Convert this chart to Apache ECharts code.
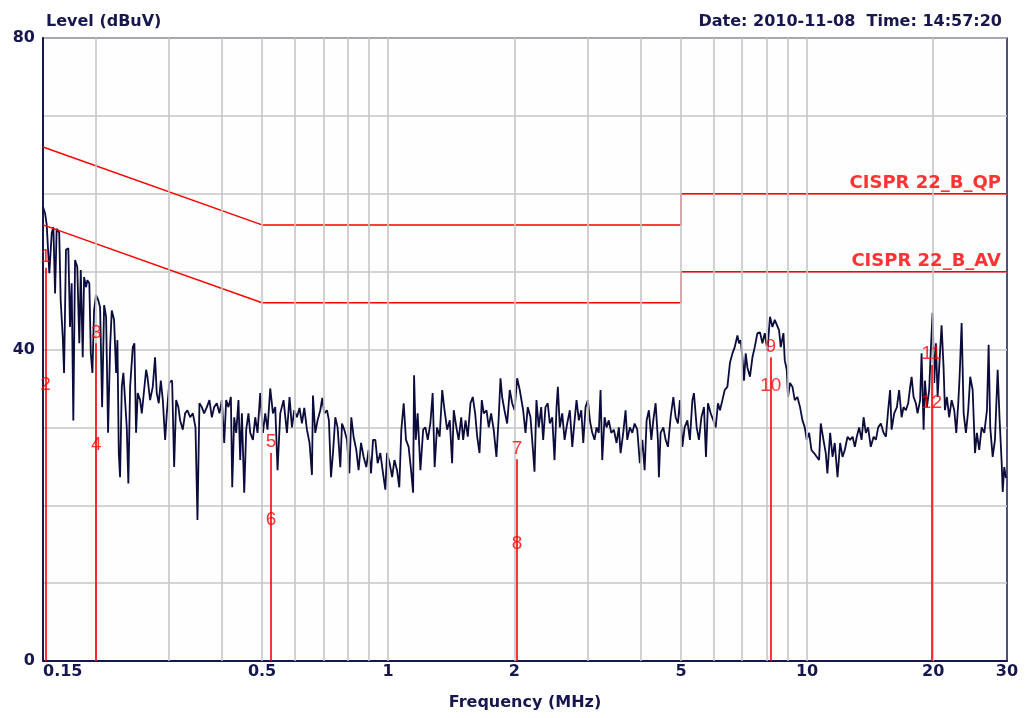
<!DOCTYPE html>
<html><head><meta charset="utf-8">
<script src="https://cdn.jsdelivr.net/npm/echarts@6/dist/echarts.min.js"></script>
<style>html,body{margin:0;padding:0;background:#fff}#c{width:1029px;height:718px}</style>
</head><body><div id="c"></div>
<script>
// Measured trace (frequency MHz, level dBuV)
const traceA = [[0.150,58.3],[0.1517,57.5],[0.1531,56],[0.1553,49.8],[0.1574,55],[0.1588,55.7],[0.1603,47.2],[0.1617,55.5],[0.1640,55],[0.1653,46.3],[0.1672,41.6],[0.1684,37],[0.1702,52.8],[0.1724,53],[0.1740,42.9],[0.1756,48.5],[0.1772,30.9],[0.1789,51.5],[0.1811,50.6],[0.1831,40.8],[0.1846,50.2],[0.1866,39],[0.1880,49.3],[0.1901,48],[0.1914,48.9],[0.1935,48.5],[0.1951,39.5],[0.1968,37],[0.1986,45],[0.2008,47],[0.2033,46.3],[0.2053,45.4],[0.2076,32.6],[0.2099,45.7],[0.2122,44.2],[0.2145,29.3],[0.2169,40.3],[0.2189,45],[0.2217,43.8],[0.2242,37],[0.2258,41.2],[0.2275,26.7],[0.2291,23.6],[0.2313,35.2],[0.2333,37],[0.2355,33.5],[0.2377,30],[0.2398,22.8],[0.2421,35.2],[0.2457,40.3],[0.2479,40.8],[0.2502,29.3],[0.2525,34.4],[0.2558,33.5],[0.2582,31.8],[0.2605,33.9],[0.2644,37.4],[0.2663,36.5],[0.2702,33.5],[0.2742,35.2],[0.2777,39],[0.2803,34.4],[0.2834,33.1],[0.2866,36],[0.2898,33.5],[0.2935,28.4],[0.2962,31.8],[0.3004,35.8],[0.3050,36],[0.3084,24.9],[0.3118,33.5],[0.3157,32.6],[0.3187,30.9],[0.3234,29.7],[0.3276,31.8],[0.3317,32.2],[0.3368,31.3],[0.3418,31.8],[0.3468,30],[0.3506,18.1],[0.3544,33.1],[0.3591,32.6],[0.3637,31.8],[0.3691,32.6],[0.3744,33.5],[0.3794,31.3],[0.3843,32.6],[0.3900,33.1],[0.3956,31.8],[0.4009,33.5],[0.4061,28],[0.4105,33.5],[0.4157,32.6],[0.4213,33.9],[0.4244,22.3],[0.4291,31.3],[0.4338,29.3],[0.4392,33.5],[0.4434,25.8],[0.4476,31.8],[0.4533,21.6],[0.4583,29.7],[0.4640,31.8],[0.4685,29.3],[0.4755,28.4],[0.4816,31.3],[0.4877,29.3],[0.4950,34.4],[0.5024,29.3],[0.5088,31.8],[0.5152,29.7],[0.5230,35],[0.5308,31.8],[0.5376,32.6],[0.5444,24.5],[0.5526,31.8],[0.5627,33.5],[0.5733,29.3],[0.5815,33.9]];
const traceB = [[0.5893,30],[0.5968,32.2],[0.6056,31.3],[0.6143,32.5],[0.6226,30.5],[0.6306,32.5],[0.6399,29.7],[0.6491,28],[0.6578,23.9],[0.6614,34.1],[0.6699,29.3],[0.6784,30.9],[0.6886,32.2],[0.6962,33.8],[0.7040,31.8],[0.7144,32.2],[0.7221,30.9],[0.7303,23.6],[0.7383,26.7],[0.7478,31.3],[0.7573,30],[0.7687,24.9],[0.7759,30.5],[0.7858,29.7],[0.7974,28.4],[0.8077,24.1],[0.8166,31.3],[0.8270,28.8],[0.8393,27.1],[0.8499,24.5],[0.8614,28],[0.8738,26.2],[0.8868,24.9],[0.8980,27.1],[0.9101,24.1],[0.9201,28.4],[0.9319,28.4],[0.9437,25.4],[0.9579,26.7],[0.9722,24.1],[0.9846,22],[0.9937,26.7],[1.008,25.4],[1.022,23.6],[1.035,25.8],[1.050,24.5],[1.063,22.3],[1.075,29.7],[1.089,33.1],[1.103,28.4],[1.119,27.5],[1.134,24.5],[1.147,21.6],[1.153,36.7],[1.164,28.4],[1.176,31.8],[1.194,24.5],[1.212,29.7],[1.227,30],[1.243,28.4],[1.261,30.5],[1.277,34.4],[1.291,24.9],[1.308,30],[1.327,28.8],[1.346,34.8],[1.363,32.2],[1.383,29.7],[1.403,30.9],[1.421,25.4],[1.434,32.2],[1.455,30],[1.473,28.4],[1.494,31.3],[1.510,28.4],[1.530,30.9],[1.549,28.8],[1.572,33.1],[1.592,33.9],[1.613,31.8],[1.631,28.8],[1.652,26.7],[1.673,33.5],[1.691,31.8],[1.717,32.2],[1.738,30],[1.761,31.8],[1.786,29.7],[1.813,26.2],[1.836,31.3],[1.854,36.3],[1.871,33.9],[1.895,32.2],[1.923,30.5],[1.951,34.8],[1.977,33.1],[2.003,32.2],[2.032,36.3],[2.061,34.8]];
const traceC = [[2.069,34.8],[2.100,32.2],[2.127,29.3],[2.154,32.6],[2.186,31.3],[2.219,26.7],[2.235,24.3],[2.259,33.5],[2.288,30],[2.319,32.6],[2.344,28.4],[2.374,32.6],[2.404,33.1],[2.431,30.5],[2.464,31.3],[2.495,25.8],[2.523,32.6],[2.541,35.2],[2.569,30],[2.603,31.8],[2.637,28.4],[2.675,30.5],[2.714,32.2],[2.751,27.5],[2.786,30.9],[2.816,33.5],[2.852,30.9],[2.890,32.2],[2.922,28],[2.959,32.6],[2.997,33.5],[3.030,30.9],[3.070,29.3],[3.109,28.4],[3.143,30],[3.182,29.3],[3.213,34.8],[3.243,25.8],[3.285,31.3],[3.321,30],[3.362,30.9],[3.408,29.3],[3.457,29.7],[3.509,28],[3.553,30],[3.587,26.7],[3.640,29.3],[3.687,32.2],[3.721,28.4],[3.775,30],[3.826,29.3],[3.875,30.5],[3.932,29.7],[3.988,25.4],[4.043,28.4],[4.094,24.5],[4.139,30.9],[4.191,32.2],[4.248,28.4],[4.294,30.9],[4.349,33.1],[4.404,28.4],[4.428,23.6],[4.470,29.3],[4.537,30],[4.595,28.4],[4.653,27.5],[4.723,31.3],[4.793,33.9],[4.855,31.3],[4.916,30.5],[4.970,33.5],[5.037,27.5],[5.101,30],[5.177,30.9],[5.251,28.4],[5.323,33.5],[5.369,34.4],[5.450,30],[5.518,28.4],[5.593,31.3],[5.673,32.6],[5.736,26.2],[5.799,33.1],[5.886,31.8],[5.974,30.9],[6.050,30],[6.127,33.1],[6.194,32.2],[6.277,33.5],[6.358,34.8],[6.452,35.2],[6.544,38.3],[6.633,39.5],[6.718,40.3],[6.817,41.8],[6.877,40.8],[6.942,41.2],[7.007,39],[7.069,36],[7.136,39.5],[7.202,37.7],[7.305,36.5],[7.404,39],[7.499,40.3],[7.609,42.1],[7.719,42.2],[7.823,40.8],[7.923,42.1],[8.040,39.9],[8.155,44.2],[8.265,42.9],[8.371,43.8]];
const traceD = [[8.569,42.5],[8.651,40.3],[8.780,42.1],[8.844,38.6],[8.941,37.4],[9.005,33.9],[9.103,35.7],[9.226,35.2],[9.344,33.5],[9.482,33.9],[9.618,32.6],[9.748,30.9],[9.872,30],[9.981,28.4],[10.11,29.3],[10.24,27.1],[10.39,26.7],[10.55,26.2],[10.68,25.8],[10.78,30.5],[10.94,28.4],[11.08,26.7],[11.18,24.1],[11.35,29.3],[11.50,26.2],[11.64,28],[11.82,23.6],[11.99,28],[12.15,26.2],[12.30,27.1],[12.49,28.8],[12.66,28.4],[12.84,28.8],[13.00,27.5],[13.14,28.8],[13.31,30],[13.49,28.4],[13.64,31.3],[13.81,29.3],[13.98,30],[14.19,27.5],[14.41,28.8],[14.59,28.4],[14.78,30],[15.00,30.5],[15.22,29.3],[15.42,28.8],[15.61,32.2],[15.78,34.8],[15.91,29.7],[16.14,31.8],[16.38,32.6],[16.58,34.8],[16.81,31.3],[16.99,32.6],[17.21,32.2],[17.43,33.1],[17.62,35.2],[17.76,36.5],[17.95,33.9],[18.18,33.1],[18.35,31.8],[18.61,33.5],[18.76,39.5],[18.97,29.7],[19.11,36],[19.32,32.6],[19.56,34.8],[19.75,40.3],[19.93,44.7],[20.11,35.7],[20.30,40.8],[20.49,33.9],[20.71,38.6],[20.94,43.1],[21.17,37.7],[21.33,32.2],[21.56,33.9],[21.83,31.3],[22.13,33.5],[22.45,32.2],[22.70,29.3],[22.95,33.1],[23.12,36.5],[23.38,43.4],[23.64,31.8],[23.94,29.3],[24.24,32.2],[24.51,36.5],[24.84,34.8],[25.16,26.7],[25.43,29.3],[25.75,27.1],[26.10,30],[26.48,29.3],[26.87,32.2],[27.12,40.6],[27.36,30],[27.73,26.2],[28.08,28.4],[28.50,37.4],[28.81,30.9],[29.14,25.4],[29.30,21.7],[29.55,24.9],[29.83,23.5]];

// Limit lines
const limitQP = [[0.15,66],[0.5,56],[5,56],[5,60],[30,60]];
const limitAV = [[0.15,56],[0.5,46],[5,46],[5,50],[30,50]];
const limitNames = ['CISPR 22_B_QP','CISPR 22_B_AV'];
const limitLabelAt = [[30,60],[30,50]];

// Markers
const markerNo = ['1','2','3','4','5','6','7','8','9','10','11','12'];
const markerFreq = [0.152,0.152,0.201,0.201,0.525,0.525,2.03,2.03,8.19,8.19,19.8,19.8];
const markerLevel = [50.5,34.0,40.8,26.3,26.7,16.7,25.9,13.7,39.0,33.9,38.0,31.7];

// Axis ticks
const xTickValues = [0.15,0.5,1,2,5,10,20,30];
const xTickLabels = ['0.15','0.5','1','2','5','10','20','30'];
const xGridValues = [0.2,0.3,0.4,0.5,0.6,0.7,0.8,0.9,1,2,3,4,5,6,7,8,9,10,20];
const yLabelValues = [0,40,80];

const NAVY = '#17174f';
const TRACE = '#0b0b3c';
const RED = '#ff0000';
const GRID = '#c6c6c6';
const FONT = 'DejaVu Sans';

const trace = traceA.concat(traceB, traceC, traceD);

const chart = echarts.init(document.getElementById('c'), null, {renderer:'canvas'});

const markerLines = [];
for (let i = 0; i < markerFreq.length; i += 2) {
  const top = Math.max(markerLevel[i], markerLevel[i+1]);
  markerLines.push([{coord:[markerFreq[i], 0]}, {coord:[markerFreq[i], top]}]);
}

chart.setOption({
  animation: false,
  backgroundColor: '#ffffff',
  title: [
    {text:'Level (dBuV)', left:41, top:9, textStyle:{fontFamily:FONT, fontWeight:'bold', fontSize:16, color:NAVY}},
    {text:'Date: 2010-11-08  Time: 14:57:20', right:22, top:9, textStyle:{fontFamily:FONT, fontWeight:'bold', fontSize:16, color:NAVY}}
  ],
  grid: {left:43, right:22, top:38, bottom:57, show:true, borderColor:NAVY, borderWidth:1.5, backgroundColor:'#fdfefd'},
  xAxis: {
    type:'log', logBase:10, min:0.15, max:30,
    name:'Frequency (MHz)', nameLocation:'middle', nameGap:34,
    nameTextStyle:{fontFamily:FONT, fontWeight:'bold', fontSize:16, color:NAVY},
    axisLine:{show:true, lineStyle:{color:NAVY, width:2}},
    axisTick:{show:false},
    splitLine:{show:false},
    minorSplitLine:{show:false},
    axisLabel:{
      customValues: xTickValues,
      alignMinLabel:'left', alignMaxLabel:'center',
      margin:3, fontFamily:FONT, fontWeight:'bold', fontSize:16, color:NAVY,
      formatter: function(v){
        for (let i = 0; i < xTickValues.length; i++) {
          if (Math.abs(v - xTickValues[i]) / xTickValues[i] < 1e-6) return xTickLabels[i];
        }
        return '';
      }
    }
  },
  yAxis: {
    type:'value', min:0, max:80, interval:10,
    axisLine:{show:true, lineStyle:{color:NAVY, width:2}},
    axisTick:{show:false},
    splitLine:{show:true, lineStyle:{color:GRID, width:1.5}},
    axisLabel:{
      margin:8, fontFamily:FONT, fontWeight:'bold', fontSize:16, color:NAVY,
      formatter: function(v){ return yLabelValues.indexOf(v) >= 0 ? String(v) : ''; }
    }
  },
  series: [
    {
      type:'line', data:[], z:1, silent:true,
      markLine:{silent:true, symbol:['none','none'], label:{show:false},
        lineStyle:{color:GRID, width:1.6, type:'solid'},
        data: xGridValues.map(v => ({xAxis:v}))}
    },
    {
      type:'line', data:trace, z:2, symbol:'none', showSymbol:false, silent:true,
      lineStyle:{color:TRACE, width:1.8}
    },
    {
      type:'line', data:limitQP, z:3, symbol:'none', silent:true,
      lineStyle:{color:RED, width:1.5}
    },
    {
      type:'line', data:limitAV, z:3, symbol:'none', silent:true,
      lineStyle:{color:RED, width:1.5}
    },
    {
      type:'scatter', z:6, silent:true, symbolSize:1,
      itemStyle:{color:'rgba(0,0,0,0)'},
      data: limitLabelAt,
      label:{show:true, position:'top', align:'right', distance:1, offset:[-6,0],
        fontFamily:FONT, fontWeight:'bold', fontSize:18, color:RED,
        formatter: p => limitNames[p.dataIndex]}
    },
    {
      type:'line', data:[], z:4, silent:true,
      markLine:{silent:true, symbol:['none','none'], label:{show:false},
        lineStyle:{color:RED, width:1.6, type:'solid'},
        data: markerLines}
    },
    {
      type:'scatter', z:7, silent:true, symbolSize:1,
      itemStyle:{color:'rgba(0,0,0,0)'},
      data: markerFreq.map((f,i) => [f, markerLevel[i]]),
      label:{show:true, position:'top', distance:1,
        fontFamily:'Liberation Sans', fontSize:19, color:RED,
        formatter: p => markerNo[p.dataIndex]}
    }
  ]
});
</script>
</body></html>
